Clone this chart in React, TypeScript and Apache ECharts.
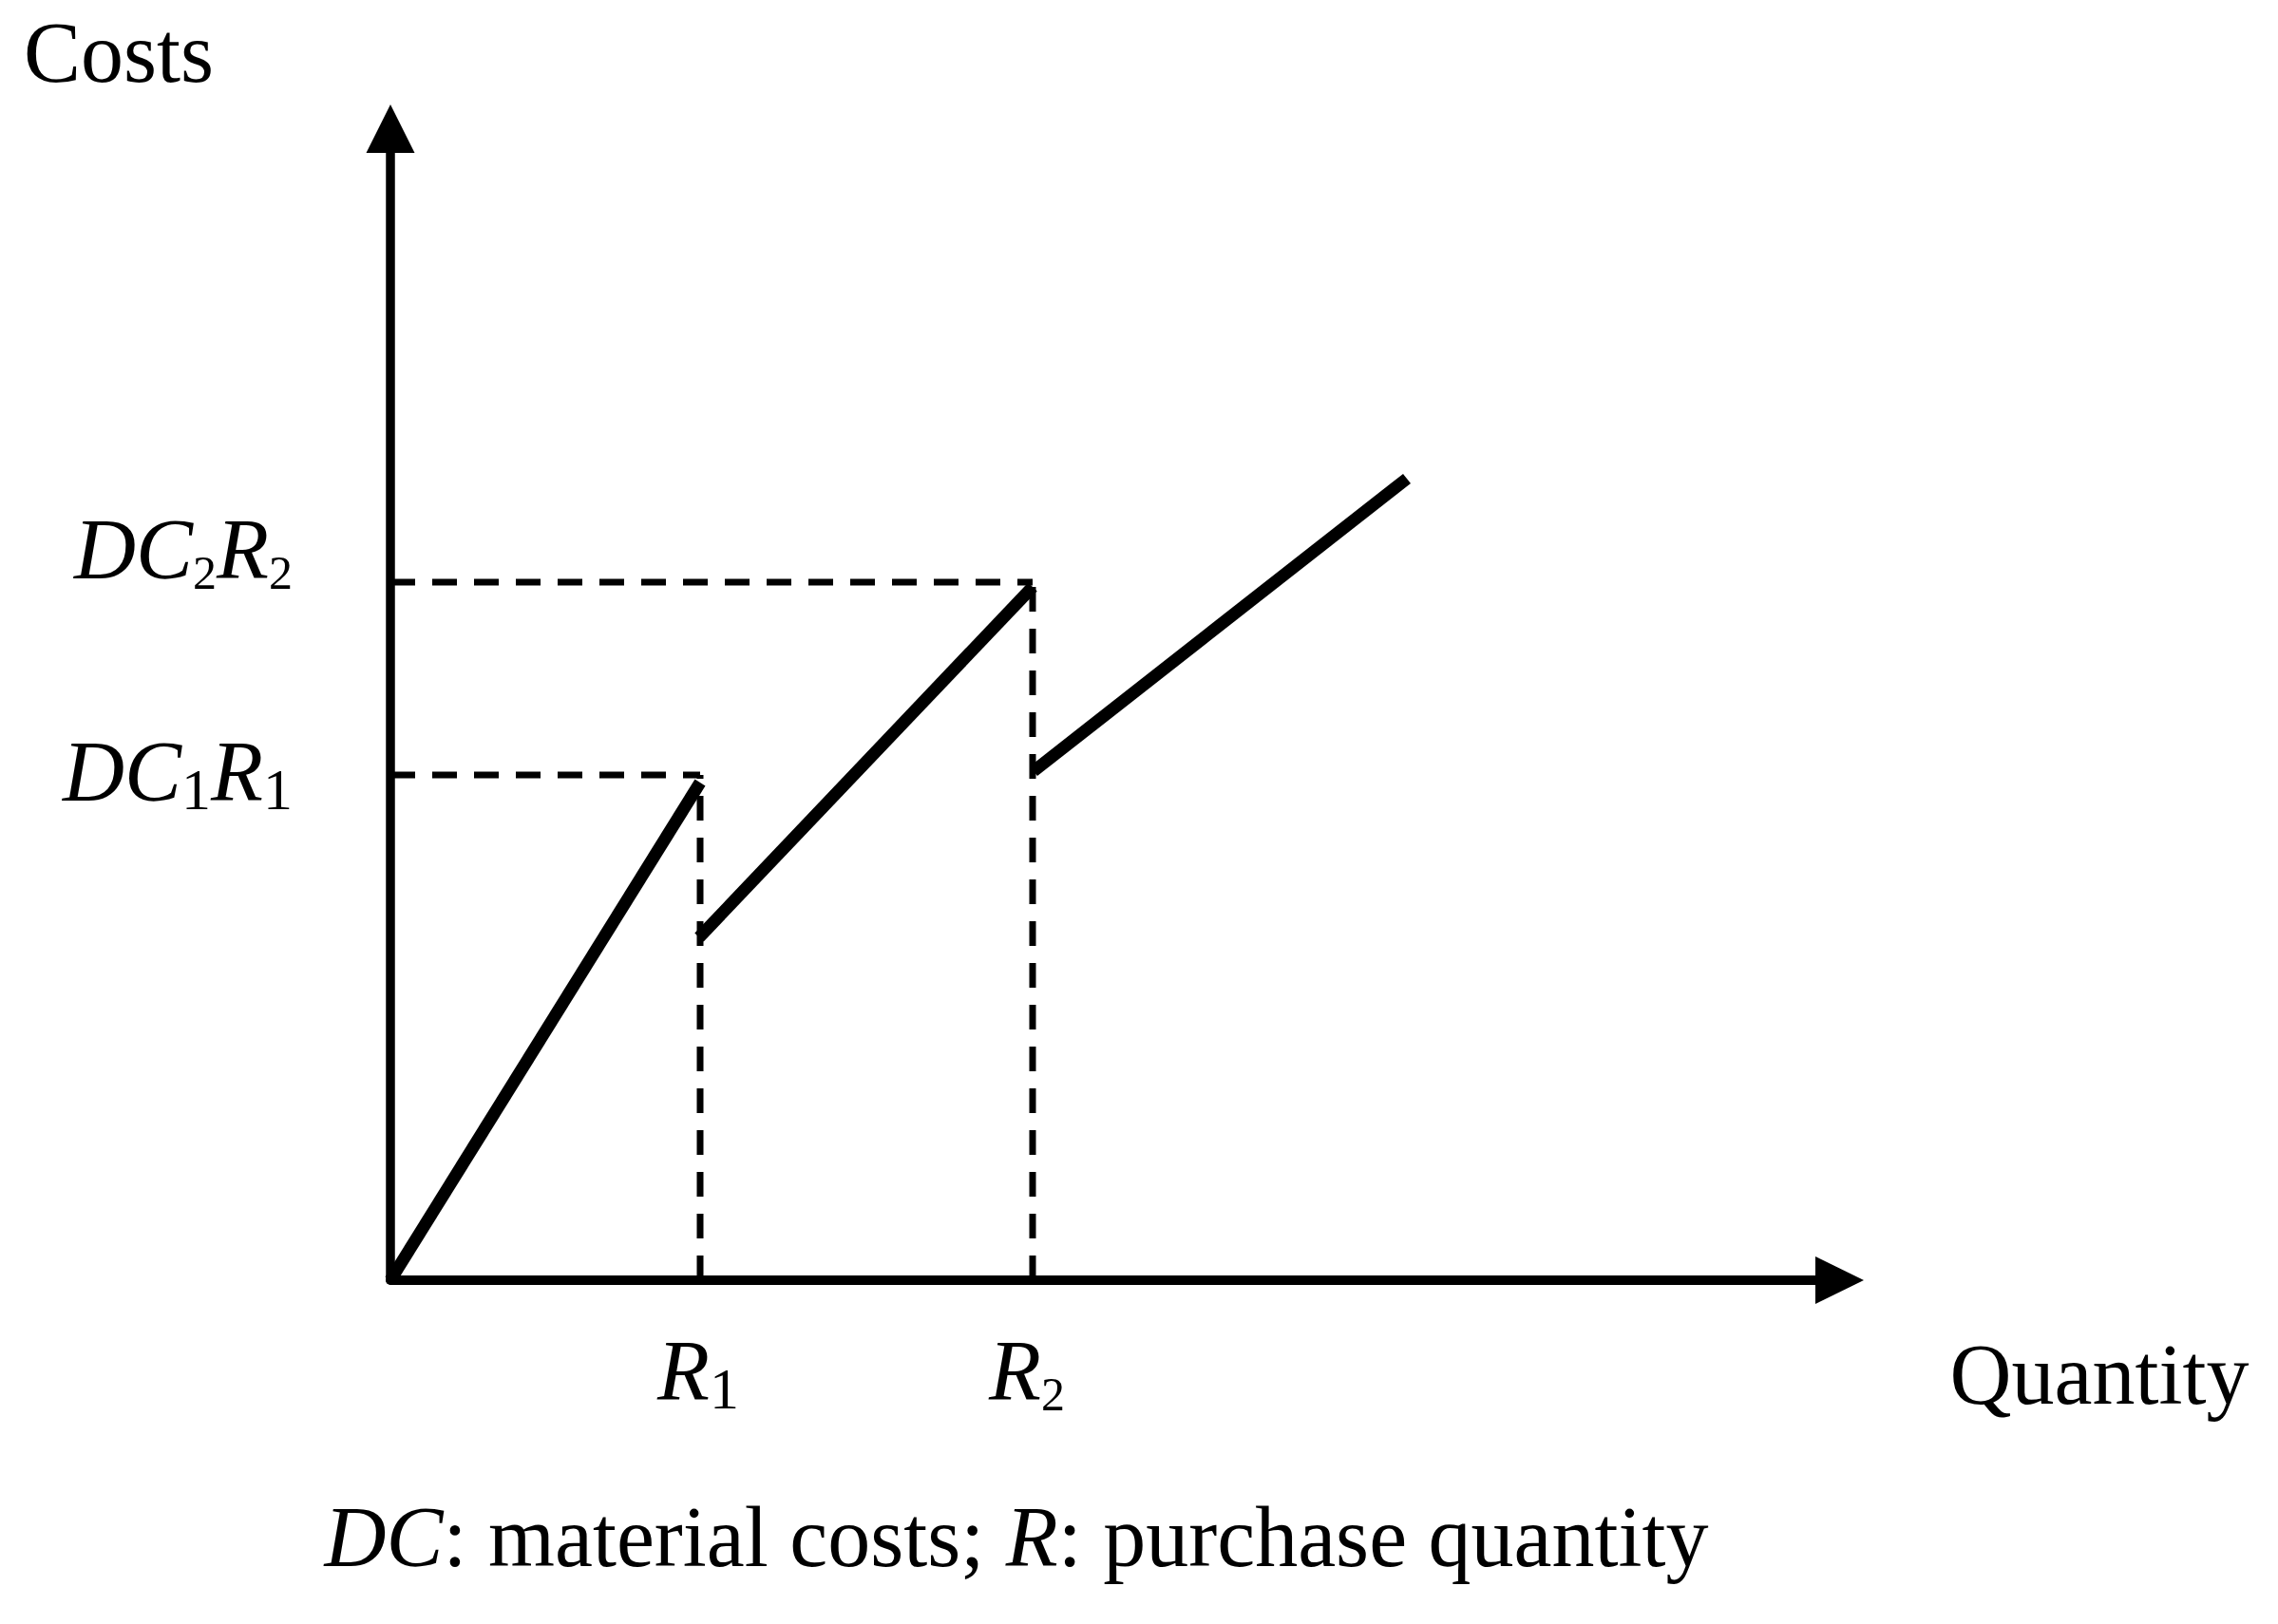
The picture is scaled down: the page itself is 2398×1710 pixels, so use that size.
import React, { useEffect, useRef } from "react";
import * as echarts from "echarts";

// Data (arbitrary units: Quantity on x, Costs on y)
const breakPoints = [3.26, 6.76]; // R1, R2
const breakLabels = ["R", "R"];
const costLevels = [5.32, 7.35]; // DC1R1, DC2R2
const segment1 = [[0, 0], [3.26, 5.24]];
const segment2 = [[3.25, 3.61], [6.76, 7.3]];
const segment3 = [[6.77, 5.36], [10.7, 8.44]];
const X_MAX = 15.255;
const Y_MAX = 12.125;

const SERIF = "'Liberation Serif', 'Times New Roman', serif";
const FS = 90;

export default function App() {
  const ref = useRef<HTMLDivElement>(null);
  useEffect(() => {
    if (!ref.current) return;
    const chart = echarts.init(ref.current, null, { renderer: "svg" });
    const dash = {
      type: "line",
      symbol: "none",
      clip: false,
      silent: true,
      lineStyle: { color: "#000", width: 7, type: [26, 18] },
    };
    const solid = {
      type: "line",
      symbol: "none",
      clip: false,
      silent: true,
      lineStyle: { color: "#000", width: 13 },
    };
    const [R1, R2] = breakPoints;
    const [C1, C2] = costLevels;
    chart.setOption({
      animation: false,
      backgroundColor: "#fff",
      grid: { left: 411, right: 461.5, top: 135.5, bottom: 362, containLabel: false },
      xAxis: {
        type: "value",
        min: 0,
        max: X_MAX,
        axisLine: {
          show: true,
          symbol: ["none", "triangle"],
          symbolSize: [50, 51],
          lineStyle: { color: "#000", width: 10 },
        },
        axisTick: { show: false },
        axisLabel: { show: false },
        splitLine: { show: false },
      },
      yAxis: {
        type: "value",
        min: 0,
        max: Y_MAX,
        axisLine: {
          show: true,
          symbol: ["none", "triangle"],
          symbolSize: [51, 51],
          lineStyle: { color: "#000", width: 9.5 },
        },
        axisTick: { show: false },
        axisLabel: { show: false },
        splitLine: { show: false },
      },
      series: [
        { ...dash, data: [[0, C1], [R1, C1]] },
        { ...dash, data: [[R1, 0], [R1, C1]] },
        { ...dash, data: [[0, C2], [R2, C2]] },
        { ...dash, data: [[R2, 0], [R2, C2]] },
        { ...solid, data: segment1 },
        { ...solid, data: segment2 },
        { ...solid, data: segment3 },
      ],
    });

    const rich = {
      i: { fontFamily: SERIF, fontStyle: "italic", fontSize: FS, lineHeight: 100, color: "#000" },
      n: { fontFamily: SERIF, fontSize: FS, lineHeight: 100, color: "#000" },
      s: { fontFamily: SERIF, fontSize: 50, lineHeight: 23, verticalAlign: "bottom", color: "#000" },
      o: { fontFamily: SERIF, fontSize: 62, lineHeight: 81, verticalAlign: "bottom", color: "#000" },
    };

    const pC1 = chart.convertToPixel({ gridIndex: 0 }, [0, C1]) as number[];
    const pC2 = chart.convertToPixel({ gridIndex: 0 }, [0, C2]) as number[];
    const pR1 = chart.convertToPixel({ gridIndex: 0 }, [R1, 0]) as number[];
    const pR2 = chart.convertToPixel({ gridIndex: 0 }, [R2, 0]) as number[];

    const txt = (x: number, y: number, text: string, align: string) => ({
      type: "text",
      x,
      y,
      silent: true,
      style: {
        text,
        rich,
        align,
        verticalAlign: "middle",
        fontFamily: SERIF,
        fontSize: FS,
        fill: "#000",
      },
    });

    chart.setOption({
      graphic: [
        txt(25, 55, "{n|Costs}", "left"),
        txt(2210, 1447, "{n|Quantity}", "center"),
        txt(pC2[0] - 103, pC2[1] - 35, "{i|DC}{s|2}{i|R}{s|2}", "right"),
        txt(pC1[0] - 103, pC1[1] - 4, "{i|DC}{o|1}{i|R}{o|1}", "right"),
        txt(pR1[0] - 2, pR1[1] + 95, `{i|${breakLabels[0]}}{o|1}`, "center"),
        txt(pR2[0] - 6, pR2[1] + 95, `{i|${breakLabels[1]}}{s|2}`, "center"),
        txt(1070, 1618, "{i|DC}{n|: material costs; }{i|R}{n|: purchase quantity}", "center"),
      ],
    });

    return () => chart.dispose();
  }, []);
  return (
    <div
      ref={ref}
      style={{ position: "absolute", left: 0, top: 0, width: 2398, height: 1710, background: "#fff" }}
    />
  );
}
